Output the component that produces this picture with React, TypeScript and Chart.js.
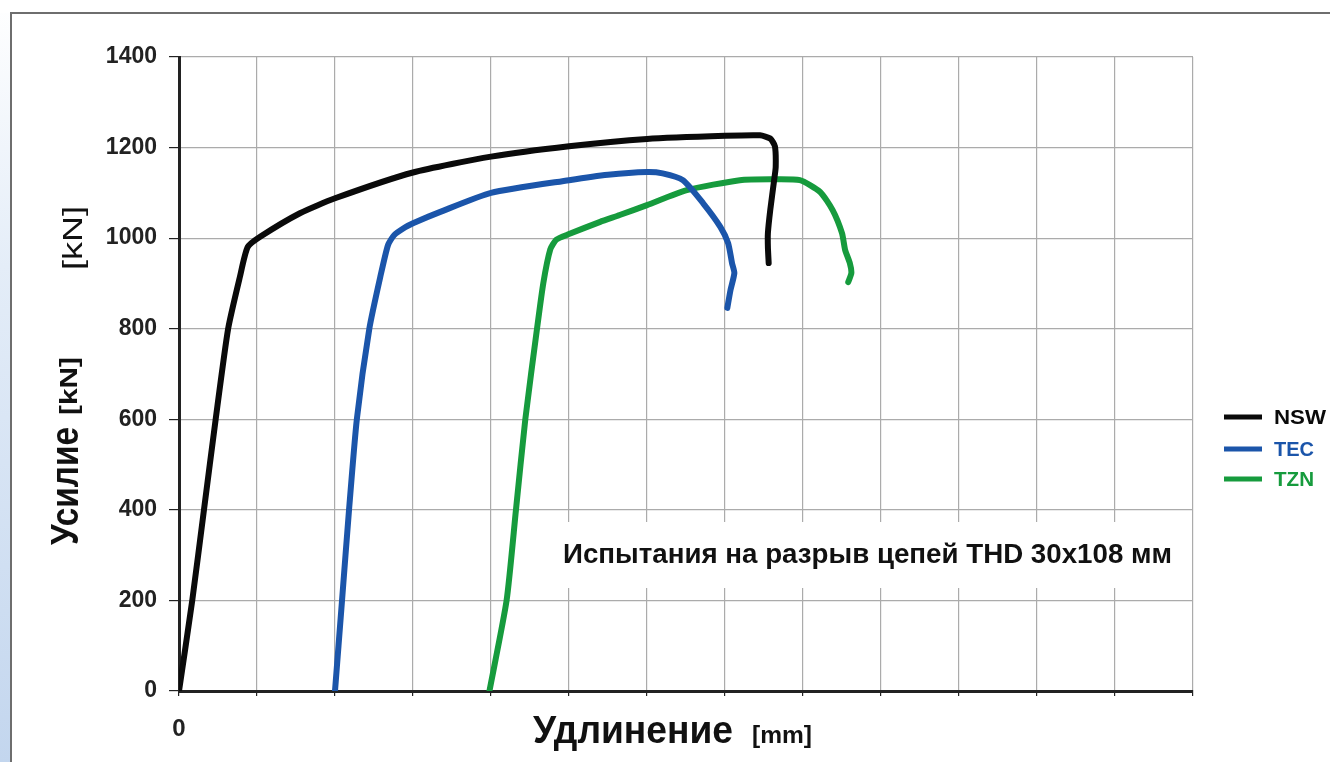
import React, { useEffect, useRef } from "react";
import { Chart, registerables } from "chart.js";

Chart.register(...registerables);

// Elongation in grid units (one vertical gridline = 1 unit), force in kN
const nswX = [0, 0.17, 0.32, 0.47, 0.63, 0.78, 0.88, 1.04, 1.55, 2.0, 3.0, 4.0, 5.0, 6.0, 7.0, 7.45, 7.58, 7.64, 7.65, 7.63, 7.58, 7.55, 7.55, 7.56];
const nswY = [0, 200, 400, 600, 800, 914, 980, 1003, 1055, 1088, 1145, 1180, 1203, 1219, 1226, 1227, 1220, 1203, 1157, 1128, 1062, 1011, 980, 945];

const tecX = [2.0, 2.09, 2.18, 2.28, 2.44, 2.58, 2.68, 2.76, 2.9, 3.0, 3.35, 4.0, 5.0, 5.5, 6.0, 6.2, 6.46, 6.72, 6.94, 7.04, 7.09, 7.12, 7.07, 7.03];
const tecY = [0, 200, 400, 600, 800, 914, 985, 1007, 1024, 1033, 1058, 1100, 1128, 1140, 1146, 1143, 1128, 1077, 1025, 989, 945, 923, 885, 846];

const tznX = [3.98, 4.2, 4.32, 4.44, 4.59, 4.67, 4.76, 4.84, 5.0, 5.4, 5.65, 6.0, 6.51, 7.19, 7.58, 7.96, 8.22, 8.38, 8.5, 8.54, 8.6, 8.62, 8.58];
const tznY = [0, 200, 400, 600, 800, 900, 975, 997, 1009, 1036, 1051, 1073, 1106, 1128, 1130, 1128, 1102, 1062, 1011, 974, 945, 923, 903];

const seriesNames = ["NSW", "TEC", "TZN"];
const seriesColors = ["#0a0a0a", "#1b55aa", "#169b3d"];

const yTicks = [0, 200, 400, 600, 800, 1000, 1200, 1400];
const xMax = 13;

const yTitle = "Усилие";
const unitKN = "[kN]";
const xTitle = "Удлинение";
const unitMM = "[mm]";
const noteText = "Испытания на разрыв цепей THD 30x108 мм";

const FONT = "'Liberation Sans', Arial, sans-serif";

const toPoints = (xs: number[], ys: number[]) => xs.map((x, i) => ({ x, y: ys[i] }));

const fitText = (ctx: any, text: string, x: number, y: number, w: number) => {
  const m = ctx.measureText(text).width;
  ctx.save();
  ctx.translate(x, y);
  ctx.scale(w / m, 1);
  ctx.fillText(text, 0, 0);
  ctx.restore();
};

const decorPlugin = {
  id: "decor",
  beforeDraw(chart: any) {
    const { ctx, width, height } = chart;
    ctx.save();
    ctx.fillStyle = "#ffffff";
    ctx.fillRect(0, 0, width, height);
    const g = ctx.createLinearGradient(0, 0, 0, height);
    g.addColorStop(0, "#ffffff");
    g.addColorStop(0.35, "#e4edf8");
    g.addColorStop(1, "#c3d6ee");
    ctx.fillStyle = g;
    ctx.fillRect(0, 13, 11, height - 13);
    ctx.strokeStyle = "#6e6e6e";
    ctx.lineWidth = 2;
    ctx.beginPath();
    ctx.moveTo(11, height);
    ctx.lineTo(11, 13);
    ctx.lineTo(width, 13);
    ctx.stroke();
    ctx.restore();
  },
  afterDraw(chart: any) {
    const { ctx } = chart;
    ctx.save();
    // annotation box
    ctx.fillStyle = "#ffffff";
    ctx.fillRect(540, 522, 648, 66);
    ctx.fillStyle = "#111";
    ctx.textBaseline = "alphabetic";
    ctx.textAlign = "left";
    ctx.font = `bold 27px ${FONT}`;
    fitText(ctx, noteText, 563, 563, 609);

    // x title
    ctx.font = `bold 38px ${FONT}`;
    fitText(ctx, xTitle, 533, 743, 200);
    ctx.font = `bold 24px ${FONT}`;
    fitText(ctx, unitMM, 752, 743, 60);

    // y title (rotated)
    ctx.save();
    ctx.translate(78, 545);
    ctx.rotate(-Math.PI / 2);
    ctx.font = `bold 38px ${FONT}`;
    fitText(ctx, yTitle, 0, 0, 118);
    ctx.font = `bold 24px ${FONT}`;
    fitText(ctx, unitKN, 130, -1, 58);
    ctx.restore();

    ctx.save();
    ctx.translate(82, 270);
    ctx.rotate(-Math.PI / 2);
    ctx.font = `28px ${FONT}`;
    fitText(ctx, unitKN, 0, 0, 64);
    ctx.restore();

    // legend
    const ly = [417, 449, 479];
    seriesNames.forEach((n, i) => {
      ctx.strokeStyle = seriesColors[i];
      ctx.lineWidth = 5;
      ctx.beginPath();
      ctx.moveTo(1224, ly[i]);
      ctx.lineTo(1262, ly[i]);
      ctx.stroke();
      ctx.fillStyle = seriesColors[i];
      ctx.font = `bold 21px ${FONT}`;
      ctx.textBaseline = "middle";
      const w = n === "NSW" ? 52 : 40;
      fitText(ctx, n, 1274, ly[i] + 1, w);
    });
    ctx.restore();
  },
};

export default function App() {
  const ref = useRef<HTMLCanvasElement | null>(null);
  useEffect(() => {
    if (!ref.current) return;
    const mk = (i: number, xs: number[], ys: number[]) => ({
      label: seriesNames[i],
      data: toPoints(xs, ys),
      borderColor: seriesColors[i],
      backgroundColor: seriesColors[i],
      borderWidth: 6,
      pointRadius: 0,
      tension: 0.2,
      borderCapStyle: "round" as const,
      borderJoinStyle: "round" as const,
      fill: false,
    });
    const chart = new Chart(ref.current, {
      type: "line",
      data: {
        datasets: [mk(0, nswX, nswY), mk(1, tecX, tecY), mk(2, tznX, tznY)],
      },
      options: {
        animation: false,
        responsive: false,
        layout: { padding: { left: 100, top: 57, right: 137, bottom: 20 } },
        plugins: { legend: { display: false }, tooltip: { enabled: false } },
        scales: {
          x: {
            type: "linear",
            min: 0,
            max: xMax,
            afterFit: (s: any) => { s.height = 51; },
            border: { display: true, color: "#222", width: 3 },
            grid: { color: "#ababab", lineWidth: 1.2, tickColor: "#222", tickLength: 5, drawTicks: true },
            ticks: {
              stepSize: 1,
              padding: 19,
              color: "#222",
              font: { family: FONT, size: 24, weight: "bold" },
              callback: (v: any) => (Number(v) === 0 ? "0" : ""),
              maxRotation: 0,
              autoSkip: false,
            },
          },
          y: {
            type: "linear",
            min: 0,
            max: 1400,
            afterFit: (s: any) => { s.width = 79; },
            afterBuildTicks: (s: any) => { s.ticks = yTicks.map((v) => ({ value: v })); },
            border: { display: true, color: "#222", width: 3 },
            grid: { color: "#ababab", lineWidth: 1.2, tickColor: "#222", tickLength: 10 },
            ticks: {
              padding: 12,
              color: "#222",
              font: { family: FONT, size: 23, weight: "bold" },
              callback: (v: any) => String(v),
            },
          },
        },
      },
      plugins: [decorPlugin],
    });
    return () => chart.destroy();
  }, []);
  return (
    <div style={{ position: "absolute", left: 0, top: 0, width: 1330, height: 762 }}>
      <canvas ref={ref} width={1330} height={762} style={{ display: "block" }} />
    </div>
  );
}
